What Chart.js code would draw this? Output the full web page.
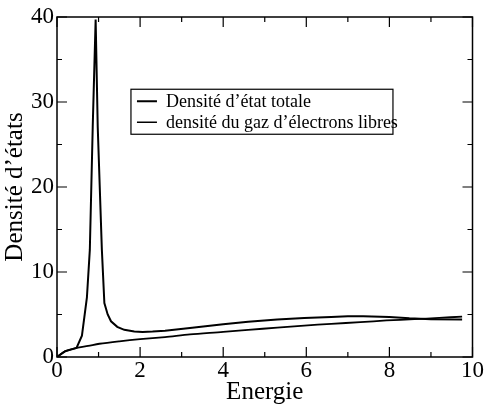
<!DOCTYPE html>
<html>
<head>
<meta charset="utf-8">
<script src="https://cdn.jsdelivr.net/npm/chart.js@4"></script>
<style>
html,body{margin:0;padding:0;background:#fff;}
#wrap{width:484px;height:407px;position:relative;}
</style>
</head>
<body>
<div id="wrap"><canvas id="c" width="484" height="407"></canvas></div>
<script>
// ---- data ----
const seriesNames = ["Densité d\u2019état totale", "densité du gaz d\u2019électrons libres"];
const axisTitleX = "Energie";
const axisTitleY = "Densité d\u2019états";

const energyTotal = [0, 0.19, 0.47, 0.60, 0.72, 0.79, 0.86, 0.93, 0.98, 1.08, 1.14, 1.22, 1.30, 1.45, 1.62, 1.86, 2.06, 2.3, 2.6, 3.2, 4.0, 4.6, 5.3, 5.95, 6.6, 7.0, 7.37, 8.0, 8.48, 9.0, 9.75];
const dosTotal    = [0, 0.66, 1.06, 2.5, 7.0, 12.6, 27.1, 39.7, 27.1, 12.6, 6.35, 5.0, 4.2, 3.55, 3.2, 3.0, 2.95, 3.0, 3.1, 3.4, 3.85, 4.15, 4.4, 4.6, 4.72, 4.78, 4.8, 4.7, 4.55, 4.45, 4.4];

const energyFree  = [0, 0.19, 0.47, 0.75, 1.02, 1.5, 2.0, 2.6, 3.2, 4.0, 4.6, 5.3, 5.95, 6.6, 7.3, 7.93, 8.6, 9.2, 9.75];
const dosFree     = [0, 0.66, 1.06, 1.3, 1.56, 1.85, 2.1, 2.35, 2.65, 2.95, 3.2, 3.45, 3.7, 3.9, 4.1, 4.3, 4.45, 4.6, 4.75];

const xMajorTicks = [0, 2, 4, 6, 8, 10];
const xMinorTicks = [1, 3, 5, 7, 9];
const yMajorTicks = [0, 10, 20, 30, 40];
const yMinorTicks = [5, 15, 25, 35];

const toPts = (xs, ys) => xs.map((x, i) => ({x: x, y: ys[i]}));

const FONT = "'Liberation Serif', 'Times New Roman', serif";

const frameAndTicks = {
  id: 'frameAndTicks',
  afterDatasetsDraw(chart) {
    const {ctx, chartArea: a, scales: {x, y}} = chart;
    ctx.save();
    ctx.strokeStyle = '#000';
    ctx.lineWidth = 1.5;
    ctx.strokeRect(a.left, a.top, a.right - a.left, a.bottom - a.top);
    ctx.lineWidth = 1.2;
    ctx.beginPath();
    const xt = (v, len) => {
      const px = x.getPixelForValue(v);
      ctx.moveTo(px, a.bottom); ctx.lineTo(px, a.bottom - len);
      ctx.moveTo(px, a.top); ctx.lineTo(px, a.top + len);
    };
    const yt = (v, len) => {
      const py = y.getPixelForValue(v);
      ctx.moveTo(a.left, py); ctx.lineTo(a.left + len, py);
      ctx.moveTo(a.right, py); ctx.lineTo(a.right - len, py);
    };
    xMajorTicks.forEach(v => xt(v, 10));
    xMinorTicks.forEach(v => xt(v, 5));
    yMajorTicks.forEach(v => yt(v, 10));
    yMinorTicks.forEach(v => yt(v, 5));
    ctx.stroke();

    // legend box
    const bx = x.getPixelForValue(1.78), by = y.getPixelForValue(31.5);
    const bw = 262, bh = 45;
    ctx.fillStyle = '#fff';
    ctx.fillRect(bx, by, bw, bh);
    ctx.lineWidth = 1.2;
    ctx.strokeRect(bx, by, bw, bh);
    ctx.font = "18px " + FONT;
    ctx.fillStyle = '#000';
    ctx.textBaseline = 'middle';
    ctx.textAlign = 'left';
    const rows = [[seriesNames[0], 2], [seriesNames[1], 1.5]];
    rows.forEach((r, i) => {
      const ly = by + 12 + i * 21;
      ctx.lineWidth = r[1];
      ctx.beginPath();
      ctx.moveTo(bx + 6, ly); ctx.lineTo(bx + 26, ly);
      ctx.stroke();
      ctx.fillText(r[0], bx + 35, ly + 1);
    });
    ctx.restore();
  }
};

new Chart(document.getElementById('c'), {
  type: 'line',
  data: {
    datasets: [
      {label: seriesNames[0], data: toPts(energyTotal, dosTotal), borderColor: '#000', borderWidth: 2, pointRadius: 0, tension: 0, fill: false},
      {label: seriesNames[1], data: toPts(energyFree, dosFree), borderColor: '#000', borderWidth: 1.8, pointRadius: 0, tension: 0.3, fill: false}
    ]
  },
  options: {
    responsive: false,
    animation: false,
    layout: {padding: {top: 17, right: 8, left: 0, bottom: 0}},
    plugins: {legend: {display: false}, tooltip: {enabled: false}},
    scales: {
      x: {
        type: 'linear', min: 0, max: 10,
        afterBuildTicks: s => { s.ticks = xMajorTicks.map(v => ({value: v})); },
        afterFit: s => { s.height = 50; },
        grid: {display: false, drawTicks: false},
        border: {display: false},
        ticks: {color: '#000', font: {family: FONT, size: 23}, padding: 0, maxRotation: 0},
        title: {display: true, text: axisTitleX, color: '#000', font: {family: FONT, size: 25}, padding: {top: -5, bottom: 0}}
      },
      y: {
        type: 'linear', min: 0, max: 40,
        afterBuildTicks: s => { s.ticks = yMajorTicks.map(v => ({value: v})); },
        afterFit: s => { s.width = 57; },
        grid: {display: false, drawTicks: false},
        border: {display: false},
        ticks: {color: '#000', font: {family: FONT, size: 23}, padding: 3},
        title: {display: true, text: axisTitleY, color: '#000', font: {family: FONT, size: 25}, padding: {top: 0, bottom: 0}}
      }
    }
  },
  plugins: [frameAndTicks]
});
</script>
</body>
</html>
